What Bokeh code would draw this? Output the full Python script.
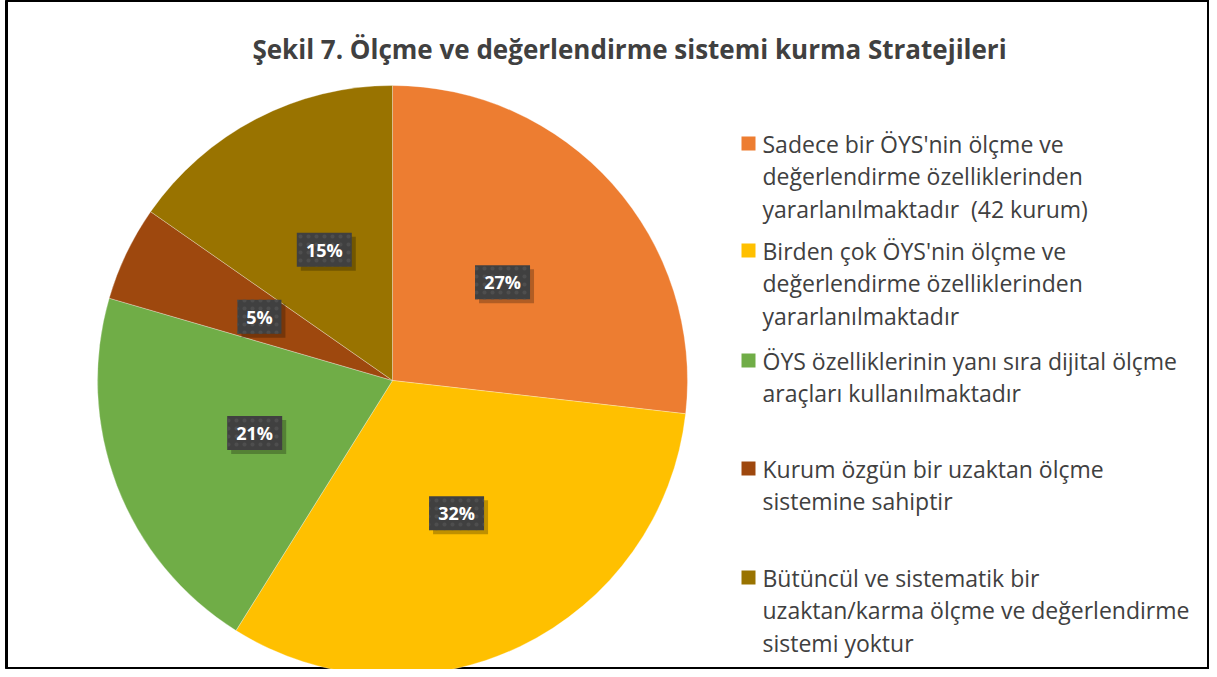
import numpy as np
from bokeh.plotting import figure
from bokeh.models import Range1d, ColumnDataSource
from bokeh.core.properties import value
from bokeh.embed import file_html
from bokeh.resources import INLINE

title = "Şekil 7. Ölçme ve değerlendirme sistemi kurma Stratejileri"
categories = [
    "Sadece bir ÖYS'nin ölçme ve\ndeğerlendirme özelliklerinden\nyararlanılmaktadır \u00a0(42 kurum)",
    "Birden çok ÖYS'nin ölçme ve\ndeğerlendirme özelliklerinden\nyararlanılmaktadır",
    "ÖYS özelliklerinin yanı sıra dijital ölçme\naraçları kullanılmaktadır",
    "Kurum özgün bir uzaktan ölçme\nsistemine sahiptir",
    "Bütüncül ve sistematik bir\nuzaktan/karma ölçme ve değerlendirme\nsistemi yoktur",
]
shares = [26.8, 32.1, 20.6, 5.2, 15.3]
pct_labels = ["27%", "32%", "21%", "5%", "15%"]
colors = ["#ED7D31", "#FFC000", "#70AD47", "#9E480E", "#997300"]

W, H = 1209, 669
LEFT = 6
FONT = "Open Sans"

p = figure(width=W, height=H, x_range=Range1d(LEFT, W), y_range=Range1d(0, H),
           output_backend="svg", toolbar_location=None, min_border=0,
           min_border_left=LEFT, x_axis_type=None, y_axis_type=None)
p.grid.visible = False
p.outline_line_color = "black"
p.outline_line_width = 3
p.background_fill_color = "white"
p.border_fill_color = "white"

# pie geometry (pixels, y measured downward from the top)
cx, cy, R = 392, H - 380, 295
vals = np.array(shares, dtype=float)
frac = vals / vals.sum()
cum = np.concatenate([[0], np.cumsum(frac)])
start = np.pi / 2 - 2 * np.pi * cum[:-1]
end = np.pi / 2 - 2 * np.pi * cum[1:]
mid = (start + end) / 2

src = ColumnDataSource(dict(start=start, end=end, color=colors))
p.wedge(x=cx, y=cy, radius=R, start_angle="start", end_angle="end",
        direction="clock", fill_color="color", line_color="white",
        line_width=0.6, line_alpha=0.5, source=src)

# data labels
lx = cx + 0.5 * R * np.cos(mid)
ly = cy + 0.5 * R * np.sin(mid)
bw = [22 + 11 * len(s) for s in pct_labels]
lsrc = ColumnDataSource(dict(x=lx, y=ly, sx=lx + 4, sy=ly - 4, w=bw, t=pct_labels))
p.rect(x="sx", y="sy", width="w", height=34, width_units="screen", height_units="screen",
       fill_color="black", fill_alpha=0.25, line_color=None, source=lsrc)
p.rect(x="x", y="y", width="w", height=34, width_units="screen", height_units="screen",
       fill_color="#404040", line_color=None, hatch_pattern="dot", hatch_color="#4e4e4e",
       hatch_scale=8, hatch_weight=1.5, source=lsrc)
p.text(x="x", y="y", text="t", text_color="white", text_font=value(FONT),
       text_font_style="bold", text_font_size="18px", text_align="center",
       text_baseline="middle", source=lsrc)

# title
p.text(x=[629], y=[H - 48], text=[title], text_font=value(FONT), text_font_style="bold",
       text_font_size="26px", text_color="#404040", text_align="center", text_baseline="middle")

# legend
entry_tops = [143, 250, 360, 468, 577]  # y of first line centre (from top)
line_h = 32.7
mx, tx = 748, 762
for i, (lab, col) in enumerate(zip(categories, colors)):
    y0 = entry_tops[i]
    lines = lab.split("\n")
    p.rect(x=[mx], y=[H - y0], width=14, height=14, width_units="screen", height_units="screen",
           fill_color=col, line_color=None)
    ys = [H - (y0 + k * line_h) for k in range(len(lines))]
    p.text(x=[tx] * len(lines), y=ys, text=lines, text_font=value(FONT),
           text_font_size="23px", text_color="#404040", text_align="left", text_baseline="middle")

open("out.html", "w").write(file_html(p, INLINE))
